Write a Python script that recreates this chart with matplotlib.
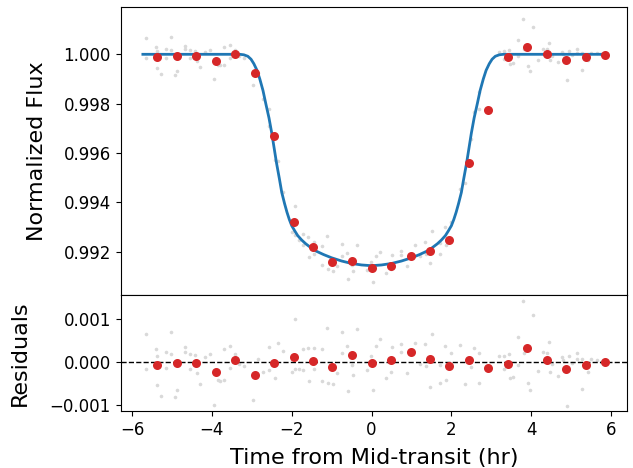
import numpy as np
import matplotlib
matplotlib.use("Agg")
import matplotlib.pyplot as plt

# raw (unbinned) data: time [hr], flux, residual [x1e-3]
t_raw = [-5.65, -5.65, -5.41, -5.38, -5.37, -5.28, -5.16, -5.16, -5.03, -5.02,
         -4.92, -4.88, -4.67, -4.67, -4.54, -4.55, -4.42, -4.38, -4.30, -4.17,
         -4.05, -3.94, -3.86, -3.81, -3.69, -3.69, -3.55, -3.55, -3.42, -3.33,
         -3.20, -2.96, -2.84, -2.71, -2.58, -2.56, -2.43, -2.34, -2.21, -1.99,
         -1.92, -1.92, -1.83, -1.72, -1.72, -1.60, -1.58, -1.43, -1.43, -1.24,
         -1.24, -1.12, -1.08, -0.96, -0.86, -0.74, -0.74, -0.62, -0.60, -0.50,
         -0.47, -0.37, -0.12, -0.02, 0.03, 0.11, 0.20, 0.36, 0.48, 0.51,
         0.73, 0.74, 0.88, 1.10, 1.22, 1.35, 1.37, 1.46, 1.52, 1.71,
         1.72, 1.84, 1.86, 1.98, 2.21, 2.35, 2.49, 2.57, 2.69, 2.69,
         3.19, 3.31, 3.32, 3.45, 3.47, 3.55, 3.67, 3.68, 3.80, 3.82,
         3.91, 3.97, 4.04, 4.17, 4.29, 4.40, 4.45, 4.46, 4.53, 4.66,
         4.78, 4.79, 4.90, 4.94, 5.03, 5.14, 5.16, 5.28, 5.28, 5.43,
         5.51, 5.64, 5.76]
resid_raw = [0.66, -0.16, 0.29, 0.14, -0.54, -0.80, 0.23, -0.15, 0.70, 0.19,
             -0.82, -0.66, 0.34, 0.22, 0.19, -0.16, 0.15, -0.27, -0.52, 0.10,
             0.17, -1.00, -0.43, -0.45, 0.30, -0.42, 0.37, -0.15, 0.17, -0.05,
             -0.11, -0.90, 0.06, -0.23, 0.35, -0.19, -0.37, 0.45, 0.25, -0.24,
             1.01, -0.18, -0.16, 0.29, -0.19, 0.32, -0.46, 0.33, -0.16, 0.30,
             -0.45, 0.80, -0.50, -0.52, -0.27, 0.69, 0.21, 0.37, -0.68, -0.08,
             -0.30, 0.76, -0.19, 0.14, -0.65, 0.37, 0.53, -0.37, -0.24, 0.34,
             0.41, 0.22, -0.27, 0.45, -0.06, 0.41, -0.10, -0.58, 0.66, -0.50,
             -0.08, 0.36, -0.43, 0.21, 0.40, -0.51, -0.12, 0.31, -0.49, 0.21,
             0.13, 0.13, -0.18, 0.18, -0.39, -0.35, 0.59, -0.08, 1.43, 0.20,
             -0.49, -0.66, 1.10, -0.22, 0.22, 0.20, 0.46, -0.23, -0.05, -0.33,
             0.10, 0.03, -1.03, 0.14, -0.02, 0.21, 0.07, -0.63, 0.07, -0.23,
             0.06, 0.04, 0.00]
flux_raw = [1.00066, 0.99984, 1.00029, 1.00014, 0.99946, 0.99920, 1.00023, 0.99985, 1.00070, 1.00019,
            0.99918, 0.99934, 1.00034, 1.00022, 1.00019, 0.99984, 1.00015, 0.99973, 0.99948, 1.00010,
            1.00017, 0.99900, 0.99957, 0.99955, 1.00030, 0.99958, 1.00037, 0.99985, 1.00017, 0.99995,
            0.99985, 0.99874, 0.99923, 0.99817, 0.99779, 0.99709, 0.99572, 0.99567, 0.99440, 0.99278,
            0.99385, 0.99266, 0.99246, 0.99273, 0.99225, 0.99258, 0.99178, 0.99239, 0.99190, 0.99222,
            0.99147, 0.99263, 0.99131, 0.99121, 0.99142, 0.99232, 0.99184, 0.99195, 0.99089, 0.99144,
            0.99121, 0.99226, 0.99126, 0.99157, 0.99078, 0.99182, 0.99200, 0.99112, 0.99128, 0.99186,
            0.99204, 0.99185, 0.99142, 0.99227, 0.99184, 0.99240, 0.99191, 0.99152, 0.99283, 0.99192,
            0.99236, 0.99299, 0.99225, 0.99321, 0.99455, 0.99480, 0.99658, 0.99767, 0.99778, 0.99848,
            1.00009, 1.00013, 0.99982, 1.00018, 0.99961, 0.99965, 1.00059, 0.99992, 1.00143, 1.00020,
            0.99951, 0.99934, 1.00110, 0.99978, 1.00022, 1.00020, 1.00046, 0.99977, 0.99995, 0.99967,
            1.00010, 1.00003, 0.99897, 1.00014, 0.99998, 1.00021, 1.00007, 0.99937, 1.00007, 0.99977,
            1.00006, 1.00004, 1.00000]

# binned data
t_bin = [-5.37, -4.88, -4.39, -3.90, -3.42, -2.93, -2.44, -1.95, -1.46, -0.98,
         -0.49, 0.00, 0.49, 0.98, 1.46, 1.95, 2.44, 2.93, 3.42, 3.90,
         4.39, 4.88, 5.37, 5.86]
flux_bin = [0.99989, 0.99993, 0.99993, 0.99973, 1.00001, 0.99923, 0.99667, 0.99321, 0.99217, 0.99157,
            0.99163, 0.99135, 0.99142, 0.99182, 0.99202, 0.99248, 0.99560, 0.99775, 0.99991, 1.00028,
            1.00003, 0.99978, 0.99989, 0.99997]
resid_bin = [-0.07, -0.03, -0.03, -0.24, 0.04, -0.31, -0.02, 0.12, 0.02, -0.13,
             0.15, -0.02, 0.03, 0.23, 0.06, -0.09, 0.04, -0.14, -0.05, 0.31,
             0.05, -0.17, -0.07, -0.01]

# best-fit model curve
t_model = [-5.73, -3.30, -3.20, -3.10, -3.02, -2.95, -2.87, -2.80, -2.72, -2.65,
           -2.57, -2.50, -2.44, -2.38, -2.31, -2.25, -2.18, -2.12, -2.06, -2.00,
           -1.92, -1.85, -1.75, -1.65, -1.52, -1.40, -1.20, -1.00, -0.75, -0.50,
           -0.25, 0.00, 0.25, 0.50, 0.75, 1.00, 1.20, 1.40, 1.52, 1.65,
           1.75, 1.85, 1.92, 2.00, 2.06, 2.12, 2.18, 2.25, 2.31, 2.38,
           2.44, 2.50, 2.57, 2.65, 2.72, 2.80, 2.87, 2.95, 3.02, 3.10,
           3.20, 3.30, 5.77]
f_model = [1.00000, 1.00000, 0.99998, 0.99992, 0.99980, 0.99962, 0.99935, 0.99900, 0.99853, 0.99800,
           0.99742, 0.99680, 0.99619, 0.99558, 0.99496, 0.99440, 0.99395, 0.99360, 0.99330, 0.99305,
           0.99283, 0.99265, 0.99247, 0.99232, 0.99216, 0.99203, 0.99188, 0.99175, 0.99162, 0.99152,
           0.99146, 0.99143, 0.99146, 0.99152, 0.99162, 0.99175, 0.99188, 0.99203, 0.99216, 0.99232,
           0.99247, 0.99265, 0.99283, 0.99305, 0.99330, 0.99360, 0.99395, 0.99440, 0.99496, 0.99558,
           0.99619, 0.99680, 0.99742, 0.99800, 0.99853, 0.99900, 0.99935, 0.99962, 0.99980, 0.99992,
           0.99998, 1.00000, 1.00000]

fig = plt.figure(figsize=(6.33, 4.68), dpi=100)
ax1 = fig.add_axes([0.1904, 0.3697, 0.8001, 0.6153])
ax2 = fig.add_axes([0.1904, 0.1218, 0.8001, 0.2479], sharex=ax1)

ax1.plot(t_raw, flux_raw, 'o', color='#d9d9d9', ms=2.6, mew=0, zorder=1)
ax1.plot(t_model, f_model, '-', color='tab:blue', lw=2, zorder=2)
ax1.plot(t_bin, flux_bin, 'o', color='tab:red', ms=6.5, mew=0, zorder=3)
ax1.set_ylabel('Normalized Flux', fontsize=16, labelpad=12)
ax1.set_ylim(0.990243, 1.001917)
ax1.set_yticks([0.992, 0.994, 0.996, 0.998, 1.000])
ax1.tick_params(axis='y', labelsize=12)
ax1.tick_params(axis='x', bottom=False, labelbottom=False)

ax2.plot(t_raw, np.array(resid_raw) * 1e-3, 'o', color='#d9d9d9', ms=2.6, mew=0, zorder=1)
ax2.axhline(0, color='k', ls='--', lw=1, zorder=2)
ax2.plot(t_bin, np.array(resid_bin) * 1e-3, 'o', color='tab:red', ms=6.5, mew=0, zorder=3)
ax2.set_ylabel('Residuals', fontsize=16, labelpad=14)
ax2.set_xlabel('Time from Mid-transit (hr)', fontsize=16, labelpad=7)
ax2.set_ylim(-0.00115, 0.00156)
ax2.set_yticks([-0.001, 0.0, 0.001])
ax2.set_xlim(-6.29, 6.40)
ax2.tick_params(labelsize=12)

plt.savefig('out.png', dpi=100)
